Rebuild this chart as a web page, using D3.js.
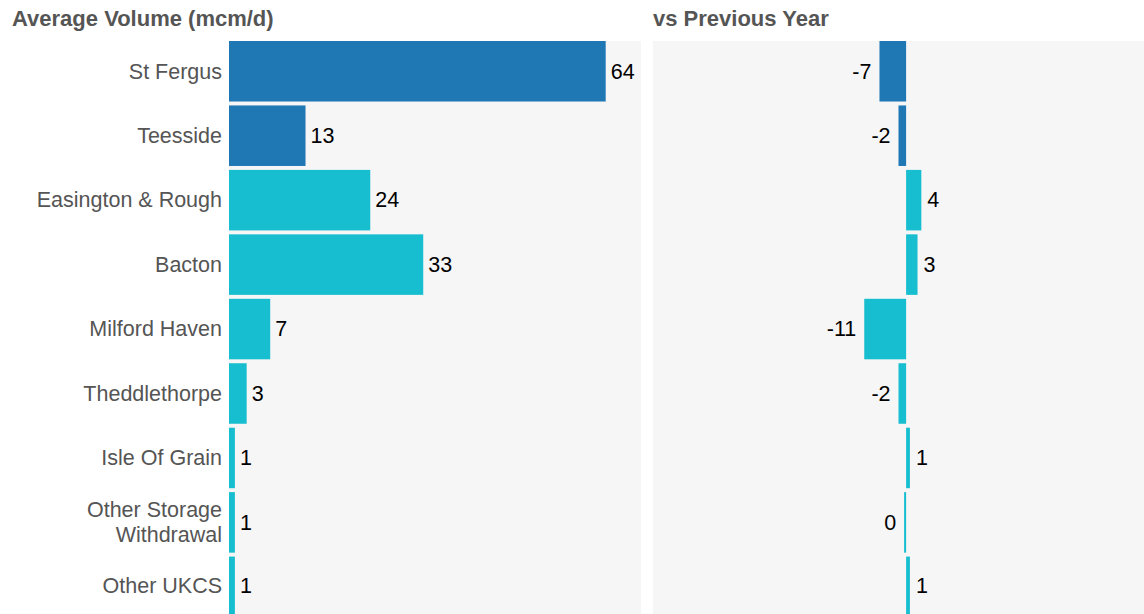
<!DOCTYPE html>
<html>
<head>
<meta charset="utf-8">
<script src="https://cdn.jsdelivr.net/npm/d3@7"></script>
<style>
  html, body { margin: 0; padding: 0; background: #fff; }
  svg { display: block; font-family: "Liberation Sans", Arial, Helvetica, sans-serif; }
</style>
</head>
<body>
<svg id="chart" width="1144" height="614"></svg>
<script>
// Entry points, in display order
const terminals = ["St Fergus", "Teesside", "Easington & Rough", "Bacton", "Milford Haven",
                   "Theddlethorpe", "Isle Of Grain", "Other Storage\nWithdrawal", "Other UKCS"];
// Average daily volume (mcm/d)
const avgVolume = [64, 13, 24, 33, 7, 3, 1, 1, 1];
// Change against the previous year (mcm/d)
const vsPrevYear = [-7, -2, 4, 3, -11, -2, 1, 0, 1];
// Colour group per terminal
const groups = ["north", "north", "south", "south", "south", "south", "south", "south", "south"];
const groupColors = { north: "#1f77b4", south: "#17becf" };

const rows = terminals.map((name, i) => ({
  name, vol: avgVolume[i], diff: vsPrevYear[i], group: groups[i]
}));

const svg = d3.select("#chart");
const W = 1144, H = 614;
const FS = 21.5;
const TOP = 41;

const y = d3.scaleBand()
  .domain(terminals)
  .range([TOP, 617.1])
  .paddingInner(0.061)
  .paddingOuter(0);

// Labels sit in the middle of the visible part of each row
const rowMid = d => (Math.max(y(d.name), TOP) + Math.min(y(d.name) + y.bandwidth(), H)) / 2;

const xL = d3.scaleLinear().domain([0, 70]).range([229, 641]);
const xR = d3.scaleLinear().domain([-66.5, 62.5]).range([653, 1144]);

const titleStyle = s => s.attr("font-size", 22).attr("font-weight", "bold").attr("fill", "#555");

// Panel backgrounds
svg.append("rect").attr("x", xL.range()[0]).attr("y", TOP)
  .attr("width", xL.range()[1] - xL.range()[0]).attr("height", H - TOP).attr("fill", "#f6f6f6");
svg.append("rect").attr("x", xR.range()[0]).attr("y", TOP)
  .attr("width", xR.range()[1] - xR.range()[0]).attr("height", H - TOP).attr("fill", "#f6f6f6");

// Titles
svg.append("text").attr("x", 12).attr("y", 26).text("Average Volume (mcm/d)").call(titleStyle);
svg.append("text").attr("x", 653).attr("y", 26).text("vs Previous Year").call(titleStyle);

// Category labels
const cat = svg.append("g").selectAll("text").data(rows).join("text")
  .attr("x", 222)
  .attr("text-anchor", "end")
  .attr("font-size", FS)
  .attr("fill", "#555");
cat.each(function(d) {
  const lines = d.name.split("\n");
  const cy = rowMid(d);
  const lh = 24.5;
  const t = d3.select(this);
  lines.forEach((ln, k) => {
    t.append("tspan").attr("x", 222)
      .attr("y", cy + (k - (lines.length - 1) / 2) * lh)
      .attr("dy", "0.34em")
      .text(ln);
  });
});

const fmt = v => String(Math.round(v));

// Left panel: average volume bars
const left = svg.append("g");
left.selectAll("rect").data(rows).join("rect")
  .attr("x", xL(0))
  .attr("y", d => y(d.name))
  .attr("width", d => xL(d.vol) - xL(0))
  .attr("height", y.bandwidth())
  .attr("fill", d => groupColors[d.group]);
left.selectAll("text").data(rows).join("text")
  .attr("x", d => xL(d.vol) + 5)
  .attr("y", rowMid)
  .attr("dy", "0.34em")
  .attr("font-size", FS)
  .attr("fill", "#000")
  .text(d => fmt(d.vol));

// Right panel: change vs previous year, diverging from zero
const minW = 2;
const right = svg.append("g");
right.selectAll("rect").data(rows).join("rect")
  .attr("x", d => d.diff > 0 ? xR(0) : Math.min(xR(d.diff), xR(0) - minW))
  .attr("y", d => y(d.name))
  .attr("width", d => Math.max(Math.abs(xR(d.diff) - xR(0)), minW))
  .attr("height", y.bandwidth())
  .attr("fill", d => groupColors[d.group]);
right.selectAll("text").data(rows).join("text")
  .attr("x", d => d.diff > 0 ? xR(d.diff) + 6 : Math.min(xR(d.diff), xR(0) - minW) - 8)
  .attr("text-anchor", d => d.diff > 0 ? "start" : "end")
  .attr("y", rowMid)
  .attr("dy", "0.34em")
  .attr("font-size", FS)
  .attr("fill", "#000")
  .text(d => fmt(d.diff));
</script>
</body>
</html>
